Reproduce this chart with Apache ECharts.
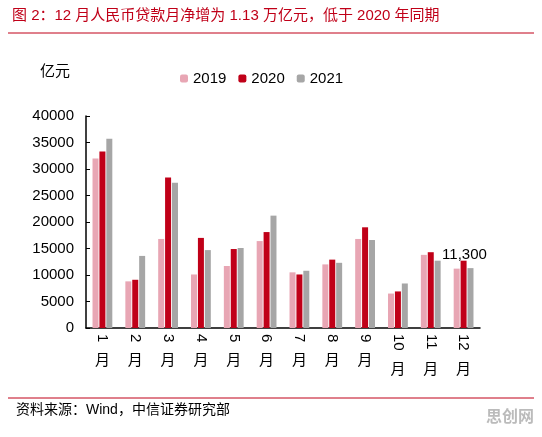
<!DOCTYPE html>
<html><head><meta charset="utf-8">
<script src="https://cdn.jsdelivr.net/npm/echarts@6/dist/echarts.min.js"></script>
<style>body{margin:0;background:#fff}#main{width:542px;height:437px}</style>
</head><body><div id="main"></div>
<script>
var monthNums = ['1','2','3','4','5','6','7','8','9','10','11','12'];
var y2019 = [32000, 8800, 16800, 10100, 11700, 16400, 10500, 12000, 16800, 6500, 13800, 11200];
var y2020 = [33300, 9100, 28400, 17000, 14900, 18100, 10100, 12900, 19000, 6900, 14300, 12700];
var y2021 = [35700, 13600, 27400, 14700, 15100, 21200, 10800, 12300, 16600, 8400, 12700, 11300];

var myChart = echarts.init(document.getElementById('main'));
var font = '"Liberation Sans", "Noto Sans CJK SC", sans-serif';
var option = {
  backgroundColor: '#fff',
  textStyle: { fontFamily: font },
  graphic: [
    { type: 'text', left: 12, top: 8, style: { text: '图 2：12 月人民币贷款月净增为 1.13 万亿元，低于 2020 年同期', fill: '#C00018', font: '15px ' + font } },
    { type: 'line', shape: { x1: 8, y1: 33, x2: 534, y2: 33 }, style: { stroke: '#C00018', lineWidth: 1 } },
    { type: 'text', left: 40, top: 64, style: { text: '亿元', fill: '#000', font: '15px ' + font } },
    { type: 'line', shape: { x1: 8, y1: 398, x2: 534, y2: 398 }, style: { stroke: '#C00018', lineWidth: 1 } },
    { type: 'text', left: 16, top: 403, style: { text: '资料来源：Wind，中信证券研究部', fill: '#000', font: '14px ' + font } },
    { type: 'text', right: 8, top: 410, style: { text: '思创网', fill: '#bbb', font: 'bold 16px ' + font } }
  ],
  legend: {
    top: 66, left: 175, itemWidth: 8, itemHeight: 8, itemGap: 12,
    textStyle: { fontSize: 15, color: '#000' },
    data: ['2019', '2020', '2021']
  },
  grid: { left: 86, right: 62, top: 116, bottom: 109 },
  xAxis: [{
    type: 'category', data: monthNums,
    axisLine: { lineStyle: { color: '#000', width: 1.5 } },
    axisTick: { show: false },
    axisLabel: { color: '#000', fontSize: 15, rotate: -90, margin: 6, interval: 0 }
  }, {
    type: 'category', data: monthNums, position: 'bottom',
    axisLine: { show: false }, axisTick: { show: false },
    axisLabel: { color: '#000', fontSize: 15, margin: 0, verticalAlign: 'top', interval: 0, hideOverlap: false,
      formatter: function (v) { return v.length > 1 ? '{b|月}' : '{a|月}'; },
      rich: { a: { fontSize: 15, padding: [25, 0, 0, 0] }, b: { fontSize: 15, padding: [34, 0, 0, 0] } } }
  }],
  yAxis: {
    type: 'value', min: 0, max: 40000, interval: 5000,
    axisLine: { show: true, lineStyle: { color: '#000', width: 1.5 } },
    axisTick: { show: true, inside: true, length: 4 },
    splitLine: { show: false },
    axisLabel: { color: '#000', fontSize: 15, margin: 12, formatter: function (v) { return String(v); } }
  },
  series: [
    { name: '2019', type: 'bar', data: y2019, barWidth: 6, barGap: '15%', itemStyle: { color: '#E8A6B4' } },
    { name: '2020', type: 'bar', data: y2020, barWidth: 6, itemStyle: { color: '#C00018' } },
    { name: '2021', type: 'bar', data: y2021, barWidth: 6, itemStyle: { color: '#A6A6A6' },
      label: { show: true, position: 'top', distance: 6, offset: [-6, 0], color: '#000', fontSize: 15,
        formatter: function (p) { return p.dataIndex === 11 ? '11,300' : ''; } } }
  ]
};
myChart.setOption(option);
</script></body></html>
